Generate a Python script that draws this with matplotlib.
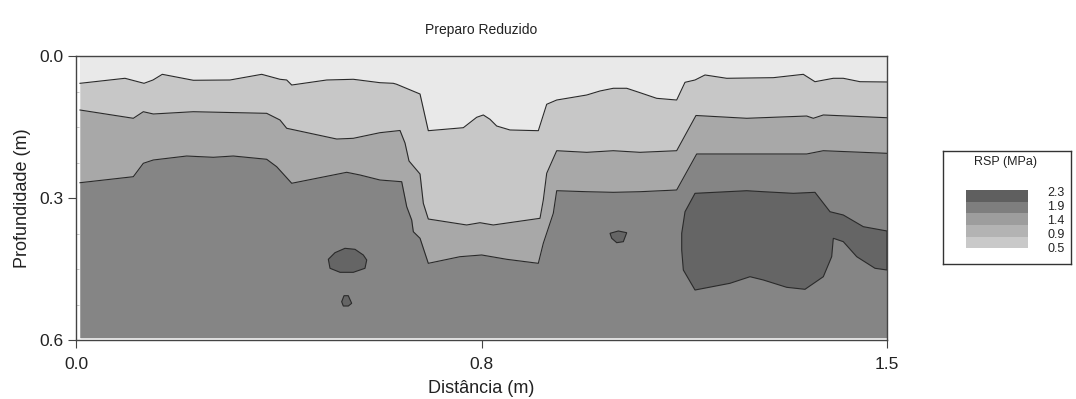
import matplotlib.pyplot as plt
from matplotlib.patches import Rectangle
from matplotlib.ticker import MultipleLocator

plt.rcParams['font.family'] = ['Liberation Sans', 'DejaVu Sans']

# limites entre classes de RSP: distancia (m) e profundidade (m)
x_lim1 = [0.0074, 0.0906, 0.1258, 0.1424, 0.1596, 0.2170, 0.2848, 0.3435, 0.3773,
          0.3897, 0.3990, 0.4637, 0.5129, 0.5623, 0.5869, 0.5932, 0.6363, 0.6516,
          0.7164, 0.7411, 0.7534, 0.7657, 0.7781, 0.8027, 0.8551, 0.8706, 0.8891,
          0.9446, 0.9692, 0.9938, 1.0186, 1.0432, 1.0740, 1.1110, 1.1264, 1.1449,
          1.1634, 1.2035, 1.2897, 1.3452, 1.3668, 1.4007, 1.4192, 1.4501, 1.5000]
z_lim1 = [0.0577, 0.0471, 0.0577, 0.0507, 0.0387, 0.0513, 0.0507, 0.0387, 0.0492,
          0.0507, 0.0613, 0.0507, 0.0492, 0.0564, 0.0577, 0.0598, 0.0803, 0.1578,
          0.1515, 0.1295, 0.1246, 0.1337, 0.1479, 0.1563, 0.1578, 0.1020, 0.0930,
          0.0824, 0.0739, 0.0682, 0.0682, 0.0775, 0.0894, 0.0930, 0.0556, 0.0507,
          0.0401, 0.0471, 0.0458, 0.0387, 0.0543, 0.0471, 0.0471, 0.0543, 0.0549]

x_lim2 = [0.0074, 0.1060, 0.1245, 0.1430, 0.2170, 0.3527, 0.3773, 0.3897, 0.4822,
          0.5129, 0.5623, 0.5993, 0.6085, 0.6159, 0.6363, 0.6424, 0.6516, 0.7226,
          0.7472, 0.7718, 0.8582, 0.8643, 0.8706, 0.8891, 0.9446, 0.9938, 1.0432,
          1.1110, 1.1467, 1.2405, 1.3515, 1.3637, 1.3822, 1.5000]
z_lim2 = [0.1141, 0.1316, 0.1177, 0.1225, 0.1177, 0.1211, 0.1352, 0.1527, 0.1754,
          0.1739, 0.1620, 0.1574, 0.1838, 0.2218, 0.2493, 0.3112, 0.3444, 0.3570,
          0.3522, 0.3570, 0.3429, 0.3042, 0.2478, 0.2001, 0.2035, 0.2001, 0.2035,
          0.2001, 0.1257, 0.1316, 0.1268, 0.1316, 0.1246, 0.1304]

x_lim3 = [0.0074, 0.1060, 0.1245, 0.1430, 0.2047, 0.2540, 0.2909, 0.3527, 0.3712,
          0.3990, 0.5007, 0.5253, 0.5623, 0.6024, 0.6117, 0.6209, 0.6239, 0.6363,
          0.6516, 0.7102, 0.7504, 0.7966, 0.8551, 0.8643, 0.8828, 0.8891, 0.9446,
          0.9938, 1.0432, 1.1110, 1.1480, 1.2466, 1.3515, 1.3822, 1.5000]
z_lim3 = [0.2677, 0.2550, 0.2267, 0.2197, 0.2113, 0.2140, 0.2113, 0.2182, 0.2339,
          0.2689, 0.2457, 0.2514, 0.2620, 0.2656, 0.3184, 0.3465, 0.3712, 0.3851,
          0.4380, 0.4240, 0.4204, 0.4295, 0.4380, 0.3957, 0.3323, 0.2846, 0.2867,
          0.2880, 0.2867, 0.2831, 0.2070, 0.2070, 0.2070, 0.2001, 0.2056]

# manchas de RSP > 2.3 MPa
x_mancha1 = [1.1449, 1.2405, 1.2712, 1.3267, 1.3668, 1.3946, 1.4192, 1.4562, 1.5000,
             1.5000, 1.4778, 1.4440, 1.4192, 1.4007, 1.3977, 1.3822, 1.3483, 1.3145,
             1.2712, 1.2466, 1.2096, 1.1449, 1.1233, 1.1203, 1.1203, 1.1264]
z_mancha1 = [0.2901, 0.2846, 0.2867, 0.2901, 0.2880, 0.3290, 0.3359, 0.3606, 0.3697,
             0.4521, 0.4485, 0.4240, 0.3923, 0.3851, 0.4240, 0.4663, 0.4929, 0.4887,
             0.4732, 0.4663, 0.4802, 0.4944, 0.4521, 0.4099, 0.3746, 0.3290]
x_mancha2 = [0.4667, 0.4790, 0.4975, 0.5160, 0.5314, 0.5377, 0.5345, 0.5129, 0.4883, 0.4698]
z_mancha2 = [0.4295, 0.4155, 0.4063, 0.4084, 0.4204, 0.4310, 0.4485, 0.4570, 0.4570, 0.4485]
x_mancha3 = [0.4914, 0.4957, 0.5036, 0.5099, 0.5036, 0.4944]
z_mancha3 = [0.5191, 0.5064, 0.5064, 0.5225, 0.5282, 0.5282]
x_mancha4 = [0.9877, 1.0030, 1.0186, 1.0123, 1.0001, 0.9908]
z_mancha4 = [0.3746, 0.3697, 0.3733, 0.3923, 0.3944, 0.3851]

x_ticks = [0.0, 0.75, 1.5]
x_tick_labels = ['0.0', '0.8', '1.5']
y_ticks = [0.0, 0.3, 0.6]
y_tick_labels = ['0.0', '0.3', '0.6']

niveis = ['2.3', '1.9', '1.4', '0.9', '0.5']
cores_niveis = ['#5f5f5f', '#7e7e7e', '#9d9d9d', '#b3b3b3', '#c9c9c9']

x_ini, x_fim = 0.0074, 1.5
z_topo, z_fundo = 0.002, 0.595

fig = plt.figure(figsize=(10.76, 3.99), dpi=100)
ax = fig.add_axes([76 / 1076, 1 - 340 / 399, 811 / 1076, 284 / 399])

# camadas, da mais superficial para a mais profunda
ax.fill_between([x_ini, x_fim], [z_topo, z_topo], [z_fundo, z_fundo], color='#e9e9e9', lw=0)
camadas = [(x_lim1, z_lim1, '#c7c7c7'), (x_lim2, z_lim2, '#a8a8a8'), (x_lim3, z_lim3, '#858585')]
for xs, zs, cor in camadas:
    ax.fill_between(xs, zs, z_fundo, color=cor, lw=0)
    ax.plot(xs, zs, color='#2a2a2a', lw=0.8)

for xs, zs in [(x_mancha1, z_mancha1), (x_mancha2, z_mancha2),
               (x_mancha3, z_mancha3), (x_mancha4, z_mancha4)]:
    ax.fill(xs, zs, facecolor='#656565', edgecolor='#2a2a2a', lw=0.8)

ax.set_xlim(0, 1.5)
ax.set_ylim(0.6, 0)
ax.set_xticks(x_ticks)
ax.set_xticklabels(x_tick_labels)
ax.set_yticks(y_ticks)
ax.set_yticklabels(y_tick_labels)
ax.yaxis.set_minor_locator(MultipleLocator(0.075))
ax.tick_params(which='major', direction='out', length=6, width=0.8, color='#444444',
               labelsize=12.5, labelcolor='#222222')
ax.tick_params(axis='x', which='major', pad=6)
ax.tick_params(axis='y', which='major', pad=3)
ax.tick_params(which='minor', direction='in', length=2.5, width=0.5, color='#b0b0b0')
for s in ax.spines.values():
    s.set_color('#444444')
    s.set_linewidth(1.0)

ax.set_xlabel('Distância (m)', fontsize=13, color='#222222', labelpad=6)
ax.set_ylabel('Profundidade (m)', fontsize=13, color='#222222', labelpad=6)
ax.set_title('Preparo Reduzido', fontsize=10, color='#222222', pad=16)

# legenda de cores (RSP)
lax = fig.add_axes([943 / 1076, 1 - 264 / 399, 128 / 1076, 113 / 399])
lax.set_xlim(0, 128)
lax.set_ylim(113, 0)
lax.set_xticks([])
lax.set_yticks([])
for s in lax.spines.values():
    s.set_color('#333333')
    s.set_linewidth(1.0)
lax.text(62, 11, 'RSP (MPa)', ha='center', va='center', fontsize=9, color='#222222')
for i, cor in enumerate(cores_niveis):
    lax.add_patch(Rectangle((23, 39 + i * 11.7), 62, 11.7, facecolor=cor, edgecolor='none'))
for i, rot in enumerate(niveis):
    lax.text(104, 42.5 + i * 13.9, rot, ha='left', va='center', fontsize=9, color='#222222')

fig.savefig('out.png', dpi=100)
